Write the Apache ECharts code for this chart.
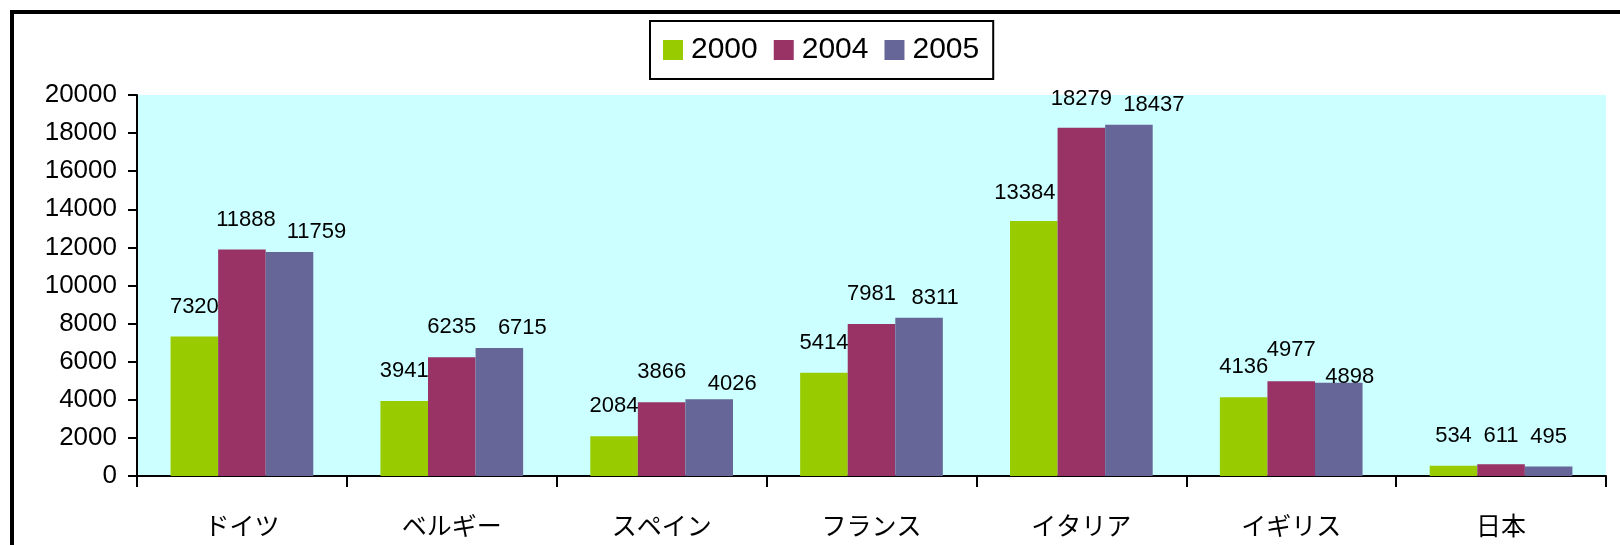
<!DOCTYPE html>
<html>
<head>
<meta charset="utf-8">
<script src="https://cdn.jsdelivr.net/npm/echarts@6/dist/echarts.min.js"></script>
<style>
  html, body { margin: 0; padding: 0; background: #fff; }
  #chart { width: 1620px; height: 545px; }
</style>
</head>
<body>
<div id="chart"></div>
<script>
// Categories and yearly values
const categories = ['ドイツ', 'ベルギー', 'スペイン', 'フランス', 'イタリア', 'イギリス', '日本'];
const years = ['2000', '2004', '2005'];
const values2000 = [7320, 3941, 2084, 5414, 13384, 4136, 534];
const values2004 = [11888, 6235, 3866, 7981, 18279, 4977, 611];
const values2005 = [11759, 6715, 4026, 8311, 18437, 4898, 495];
const yTicks = { min: 0, max: 20000, interval: 2000 };

const colors = ['#99CC00', '#993366', '#666699'];
const latin = '"Liberation Sans", Arial, sans-serif';
const cjk = '"Liberation Sans", "Noto Sans CJK JP", sans-serif';

// Value labels: horizontal shift and distance above the bar, per series and category
const labelShift = [
  [0, 0, 0, 0, -9, 0, 0],
  [4, 0, 0, 0, 0, 0, 0],
  [27, 23, 23, 16, 25, 11, 0]
];
const labelDistance = [
  [19, 19, 19, 19, 17, 19, 19],
  [19, 19, 19, 19, 18, 20, 17],
  [9, 9, 4, 9, 9, -5, 19]
];

function buildSeries(name, values, idx) {
  return {
    name: name,
    type: 'bar',
    barGap: '0%',
    barCategoryGap: '32%',
    itemStyle: { color: colors[idx] },
    label: {
      show: true,
      position: 'top',
      color: '#000',
      fontFamily: latin,
      fontSize: 22
    },
    data: values.map(function (v, i) {
      return {
        value: v,
        label: { distance: labelDistance[idx][i], offset: [labelShift[idx][i], 0] }
      };
    })
  };
}

const chart = echarts.init(document.getElementById('chart'), null, { renderer: 'canvas' });
chart.setOption({
  animation: false,
  backgroundColor: '#fff',
  graphic: [
    { type: 'rect', shape: { x: 10, y: 10, width: 1610, height: 4 }, style: { fill: '#000' } },
    { type: 'rect', shape: { x: 10, y: 10, width: 4, height: 535 }, style: { fill: '#000' } }
  ],
  legend: {
    left: 650,
    top: 21,
    orient: 'horizontal',
    padding: [14, 14, 14, 13],
    itemGap: 16,
    itemWidth: 20,
    itemHeight: 20,
    borderColor: '#000',
    borderWidth: 2,
    borderRadius: 0,
    icon: 'rect',
    textStyle: { fontFamily: latin, fontSize: 30, color: '#000', padding: [0, 0, 0, 3] },
    data: years
  },
  grid: {
    left: 137,
    right: 14,
    top: 95,
    bottom: 69,
    show: true,
    backgroundColor: '#CCFFFF',
    borderWidth: 0
  },
  xAxis: {
    type: 'category',
    data: categories,
    boundaryGap: true,
    axisLine: { lineStyle: { color: '#000', width: 2 } },
    axisTick: { show: true, length: 11, alignWithLabel: false, lineStyle: { color: '#000', width: 2 } },
    axisLabel: { color: '#000', fontFamily: cjk, fontSize: 25, margin: 40, interval: 0 },
    splitLine: { show: false }
  },
  yAxis: {
    type: 'value',
    min: yTicks.min,
    max: yTicks.max,
    interval: yTicks.interval,
    axisLine: { show: true, lineStyle: { color: '#000', width: 2 } },
    axisTick: { show: true, length: 9, lineStyle: { color: '#000', width: 2 } },
    axisLabel: {
      color: '#000',
      fontFamily: latin,
      fontSize: 26,
      margin: 20,
      formatter: function (v) { return String(v); }
    },
    splitLine: { show: false }
  },
  series: [
    buildSeries(years[0], values2000, 0),
    buildSeries(years[1], values2004, 1),
    buildSeries(years[2], values2005, 2)
  ]
});
</script>
</body>
</html>
